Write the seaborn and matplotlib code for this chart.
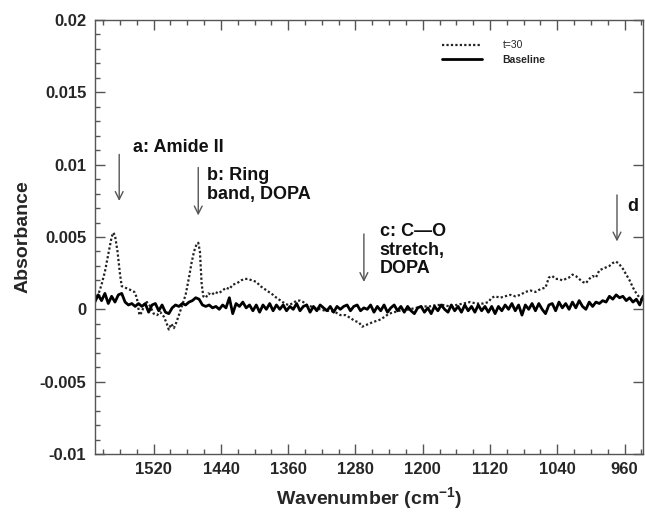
import matplotlib
matplotlib.use("Agg")
import matplotlib.pyplot as plt
import seaborn as sns
import pandas as pd

# t=30 spectrum (dotted)
t30_wn = [1590, 1586, 1582, 1578, 1574, 1570, 1568, 1566, 1563, 1560, 1558, 1554, 1550, 1546,
          1543, 1540, 1537, 1534, 1531, 1528, 1524, 1520, 1516, 1512, 1508, 1505, 1502, 1499,
          1496, 1493, 1490, 1486, 1482, 1478, 1475, 1472, 1469, 1467, 1465, 1463, 1461, 1458,
          1455, 1451, 1447, 1443, 1438, 1434, 1430, 1426, 1421, 1416, 1412, 1408, 1403, 1398,
          1393, 1388, 1383, 1378, 1374, 1369, 1364, 1360, 1355, 1350, 1346, 1342, 1338, 1333,
          1328, 1322, 1316, 1310, 1304, 1298, 1292, 1286, 1281, 1276, 1272, 1268, 1264, 1260,
          1255, 1250, 1245, 1240, 1234, 1228, 1222, 1216, 1208, 1200, 1192, 1184, 1176, 1168,
          1160, 1152, 1144, 1136, 1128, 1122, 1118, 1114, 1108, 1102, 1096, 1090, 1084, 1078,
          1072, 1066, 1060, 1054, 1050, 1046, 1042, 1038, 1034, 1030, 1026, 1022, 1018, 1014,
          1010, 1006, 1002, 998, 994, 990, 986, 982, 978, 974, 970, 966, 962, 958, 954, 950,
          946, 942, 938]
t30_abs = [0.0006, 0.0010, 0.0017, 0.0026, 0.0038, 0.0050, 0.0053, 0.0051, 0.0040, 0.0024, 0.0016, 0.0015, 0.0014, 0.0013,
           0.0012, 0.0008, -0.0004, -0.0002, 0.0004, 0.0005, 0.0002, -0.0003, -0.0004, -0.0002, -0.0005, -0.0009, -0.0014, -0.0010,
           -0.0013, -0.0009, -0.0004, 0.0003, 0.0010, 0.0022, 0.0032, 0.0040, 0.0045, 0.0046, 0.0040, 0.0018, 0.0009, 0.0008,
           0.0011, 0.0010, 0.0012, 0.0011, 0.0013, 0.0015, 0.0014, 0.0017, 0.0018, 0.0020, 0.0021, 0.0021, 0.0020, 0.0019,
           0.0016, 0.0014, 0.0012, 0.0010, 0.0008, 0.0006, 0.0004, 0.0003, 0.0004, 0.0006, 0.0006, 0.0005, 0.0003, 0.0002,
           0.0001, 0.0000, -0.0001, -0.0001, -0.0002, -0.0004, -0.0004, -0.0006, -0.0008, -0.0009, -0.0012, -0.0011, -0.0010, -0.0009,
           -0.0008, -0.0007, -0.0005, -0.0003, -0.0002, -0.0001, -0.0001, 0.0000, 0.0001, 0.0002, 0.0002, 0.0003, 0.0003, 0.0002,
           0.0003, 0.0004, 0.0005, 0.0004, 0.0004, 0.0005, 0.0008, 0.0009, 0.0008, 0.0009, 0.0010, 0.0009, 0.0010, 0.0012,
           0.0013, 0.0012, 0.0014, 0.0015, 0.0022, 0.0023, 0.0021, 0.0021, 0.0020, 0.0021, 0.0022, 0.0024, 0.0023, 0.0021,
           0.0019, 0.0018, 0.0021, 0.0023, 0.0022, 0.0027, 0.0028, 0.0029, 0.0030, 0.0032, 0.0033, 0.0031, 0.0028, 0.0024, 0.0020, 0.0015,
           0.0011, 0.0008, 0.0006]

# baseline spectrum (solid)
base_wn = [1590, 1586, 1582, 1578, 1574, 1570, 1566, 1562, 1558,
           1554, 1550, 1546, 1542, 1538,
           1534, 1530, 1526, 1522, 1518, 1514, 1510, 1506, 1502,
           1498, 1494, 1490, 1486, 1482, 1478, 1474, 1470, 1466,
           1462, 1458, 1454, 1450, 1446, 1442, 1438, 1434,
           1430, 1426, 1422, 1418, 1414, 1410, 1406,
           1402, 1398, 1394, 1390, 1386, 1382, 1378, 1374, 1370,
           1366, 1362, 1358, 1354, 1350, 1346, 1342, 1338, 1334, 1330,
           1326, 1322, 1318, 1314, 1310, 1306, 1302, 1298, 1294, 1290,
           1286, 1282, 1278, 1274, 1270,
           1266, 1262, 1258, 1254, 1250, 1246, 1242, 1238, 1234, 1230,
           1226, 1222, 1218, 1214, 1210, 1206, 1202, 1198, 1194, 1190,
           1186, 1182, 1178, 1174, 1170, 1166, 1162, 1158, 1154, 1150,
           1146, 1142, 1138, 1134, 1130, 1126, 1122, 1118, 1114, 1110,
           1106, 1102,
           1098, 1094, 1090, 1086, 1082, 1078, 1074, 1070, 1066, 1062,
           1058, 1054, 1050, 1046, 1042, 1038, 1034, 1030, 1026, 1022,
           1018, 1014, 1010, 1006, 1002, 998, 994, 990, 986, 982,
           978, 974, 970, 966, 962, 958, 954, 950, 946,
           942, 938]
base_abs = [0.0005, 0.0010, 0.0006, 0.0011, 0.0004, 0.0009, 0.0005, 0.0010, 0.0011,
            0.0005, 0.0003, 0.0004, 0.0002, 0.0004,
            0.0002, 0.0004, -0.0002, 0.0003, 0.0004, -0.0001, 0.0003, -0.0002, -0.0003,
            0.0001, 0.0003, 0.0002, 0.0004, 0.0003, 0.0005, 0.0006, 0.0008, 0.0007,
            0.0003, 0.0002, 0.0003, 0.0001, 0.0002, 0.0000, 0.0003, 0.0001,
            0.0008, -0.0003, 0.0004, 0.0002, 0.0005, 0.0001, 0.0003,
            -0.0001, 0.0003, -0.0002, 0.0003, 0.0000, 0.0004, -0.0001, 0.0003, 0.0000,
            0.0003, -0.0001, 0.0002, 0.0000, 0.0004, -0.0001, 0.0002, 0.0003, -0.0002, 0.0002,
            -0.0001, 0.0003, 0.0001, -0.0001, 0.0002, -0.0002, 0.0002, 0.0000, 0.0002, 0.0003,
            -0.0001, 0.0002, 0.0003, -0.0001, 0.0001,
            0.0000, 0.0003, -0.0002, 0.0002, -0.0001, 0.0003, -0.0002, 0.0001, 0.0003, -0.0001,
            0.0002, -0.0002, 0.0002, -0.0001, -0.0003, 0.0001, 0.0002, -0.0002, 0.0001, -0.0003,
            0.0002, -0.0001, 0.0003, 0.0000, -0.0002, 0.0003, -0.0001, 0.0002, -0.0002, 0.0003,
            -0.0001, 0.0002, -0.0002, 0.0003, -0.0001, 0.0002, -0.0002, 0.0002, -0.0003, 0.0002,
            -0.0001, 0.0003,
            0.0000, 0.0004, -0.0001, 0.0003, -0.0004, 0.0003, 0.0000, 0.0004, -0.0001, 0.0004,
            0.0000, -0.0003, 0.0003, 0.0004, -0.0001, 0.0005, 0.0001, 0.0004, 0.0000, 0.0005,
            0.0001, 0.0006, 0.0002, 0.0000, 0.0005, 0.0002, 0.0005, 0.0004, 0.0006, 0.0005,
            0.0009, 0.0007, 0.0010, 0.0008, 0.0009, 0.0006, 0.0008, 0.0005, 0.0007,
            0.0003, 0.0009]

x_ticks = [1520, 1440, 1360, 1280, 1200, 1120, 1040, 960]
y_ticks = [0.02, 0.015, 0.01, 0.005, 0, -0.005, -0.01]
y_tick_labels = ["0.02", "0.015", "0.01", "0.005", "0", "-0.005", "-0.01"]

# peak labels: (text, text x, text y, arrow x, arrow top, arrow bottom)
peak_notes = [
    ("a: Amide II", 1545, 0.0112, 1561, 0.0109, 0.0073),
    ("b: Ring\nband, DOPA", 1457, 0.0086, 1467, 0.0100, 0.0063),
    ("c: C\u2014O\nstretch,\nDOPA", 1251, 0.0041, 1270, 0.0054, 0.0017),
    ("d", 957, 0.0071, 969, 0.0081, 0.0045),
]

df_t30 = pd.DataFrame({"wn": t30_wn, "abs": t30_abs})
df_base = pd.DataFrame({"wn": base_wn, "abs": base_abs})

sns.set_style("ticks")
plt.rcParams["font.family"] = ["Liberation Sans", "DejaVu Sans"]

fig = plt.figure(figsize=(6.45, 5.18), dpi=100)
ax = fig.add_axes([0.147, 0.1236, 0.850, 0.8378])

sns.lineplot(data=df_t30, x="wn", y="abs", ax=ax, color="#222222", sort=False,
             linewidth=1.6, linestyle=(0, (1, 1)), label="t=30")
sns.lineplot(data=df_base, x="wn", y="abs", ax=ax, color="black", sort=False,
             linewidth=2.0, label="Baseline")

ax.set_xlim(1590, 938)
ax.set_ylim(-0.01, 0.02)
ax.set_xticks(x_ticks)
ax.set_xticklabels([str(v) for v in x_ticks])
ax.set_yticks(y_ticks)
ax.set_yticklabels(y_tick_labels)
ax.xaxis.set_minor_locator(matplotlib.ticker.MultipleLocator(20))
ax.yaxis.set_minor_locator(matplotlib.ticker.MultipleLocator(0.001))

for sp in ax.spines.values():
    sp.set_color("#555555")
    sp.set_linewidth(1.0)
ax.tick_params(which="both", direction="in", top=True, right=True, color="#555555")
ax.tick_params(which="major", length=7, width=1, labelsize=12, pad=6)
ax.tick_params(which="minor", length=3.5, width=1)
ax.tick_params(axis="y", which="minor", right=False)
ax.tick_params(axis="y", which="major", right=True)
for lab in ax.get_xticklabels() + ax.get_yticklabels():
    lab.set_fontweight("bold")

ax.set_xlabel("Wavenumber (cm$^{\\mathregular{-1}}$)", fontsize=14, fontweight="bold", labelpad=6)
ax.set_ylabel("Absorbance", fontsize=14, fontweight="bold", labelpad=6)

for txt, tx, ty, axx, ytop, ybot in peak_notes:
    ax.annotate("", xy=(axx, ybot), xytext=(axx, ytop),
                arrowprops=dict(arrowstyle="->", color="#555555", lw=1.0,
                                mutation_scale=14))
    ax.text(tx, ty, txt, fontsize=13, fontweight="bold", ha="left", va="center",
            linespacing=1.15, color="#111111")

leg = ax.legend(loc="upper left", bbox_to_anchor=(0.624, 0.965), frameon=False,
                fontsize=7.5, handlelength=3.8, handletextpad=2.0, labelspacing=0.4,
                borderpad=0)
leg.get_texts()[1].set_fontweight("bold")

fig.savefig("out.png", dpi=100)
